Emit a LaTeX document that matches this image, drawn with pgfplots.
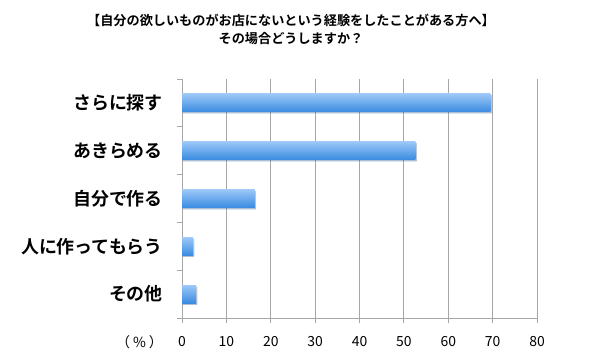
\documentclass[border=0pt]{standalone}
\usepackage{fontspec}
\setmainfont{Noto Sans CJK JP}[BoldFont=* Bold]
\usepackage{pgfplots}
\pgfplotsset{compat=1.18}
\usetikzlibrary{shadows}
\definecolor{gridgray}{HTML}{A6A6A6}
\definecolor{bartop}{HTML}{9CC8F8}
\definecolor{barbot}{HTML}{3A8BE0}
\pgfplotsset{mybar/.style={xbar, bar width=18bp, bar shift=0pt, draw=none, top color=bartop, bottom color=barbot,
  drop shadow={shadow xshift=1.2bp, shadow yshift=-1.5bp, fill=black, opacity=0.2}}}
\begin{document}
\begin{tikzpicture}[x=1bp,y=1bp]
\path[use as bounding box] (0,0) rectangle (600,360);
\node[align=center, font=\bfseries\fontsize{13.2}{18}\selectfont] at (291,331) {【自分の欲しいものがお店にないという経験をしたことがある方へ】\\その場合どうしますか？};
\node[anchor=east, font=\fontsize{14}{14}\selectfont, inner sep=0pt] at (163,18) {（\kern3bp\%\kern3bp）};
\begin{axis}[
  at={(182bp,42bp)}, anchor=south west,
  scale only axis, width=355bp, height=239bp,
  xmin=0, xmax=80, ymin=-0.5, ymax=4.5,
  axis x line*=bottom, axis y line*=left,
  axis line style={-, gridgray, line width=1bp},
  xtick={0,10,...,80},
  ytick={-0.5,0.5,...,4.5},
  yticklabels={,,,,,},
  extra y ticks={0,1,2,3,4},
  extra y tick labels={その他,人に作ってもらう,自分で作る,あきらめる,さらに探す},
  extra y tick style={major tick length=0pt, yticklabel style={font=\bfseries\fontsize{18}{18}\selectfont, anchor=east, inner sep=0pt, xshift=-19bp}},
  tick align=outside,
  major tick length=5bp,
  tick style={gridgray, line width=1bp},
  xmajorgrids,
  major grid style={gridgray, line width=1bp},
  xticklabel style={font=\fontsize{14}{14}\selectfont},
  xticklabel shift=10bp,
  /pgf/number format/assume math mode=true,
]
\addplot[mybar] coordinates {(3.2,0)};
\addplot[mybar] coordinates {(2.5,1)};
\addplot[mybar] coordinates {(16.4,2)};
\addplot[mybar] coordinates {(52.6,3)};
\addplot[mybar] coordinates {(69.5,4)};
\end{axis}
\end{tikzpicture}
\end{document}
